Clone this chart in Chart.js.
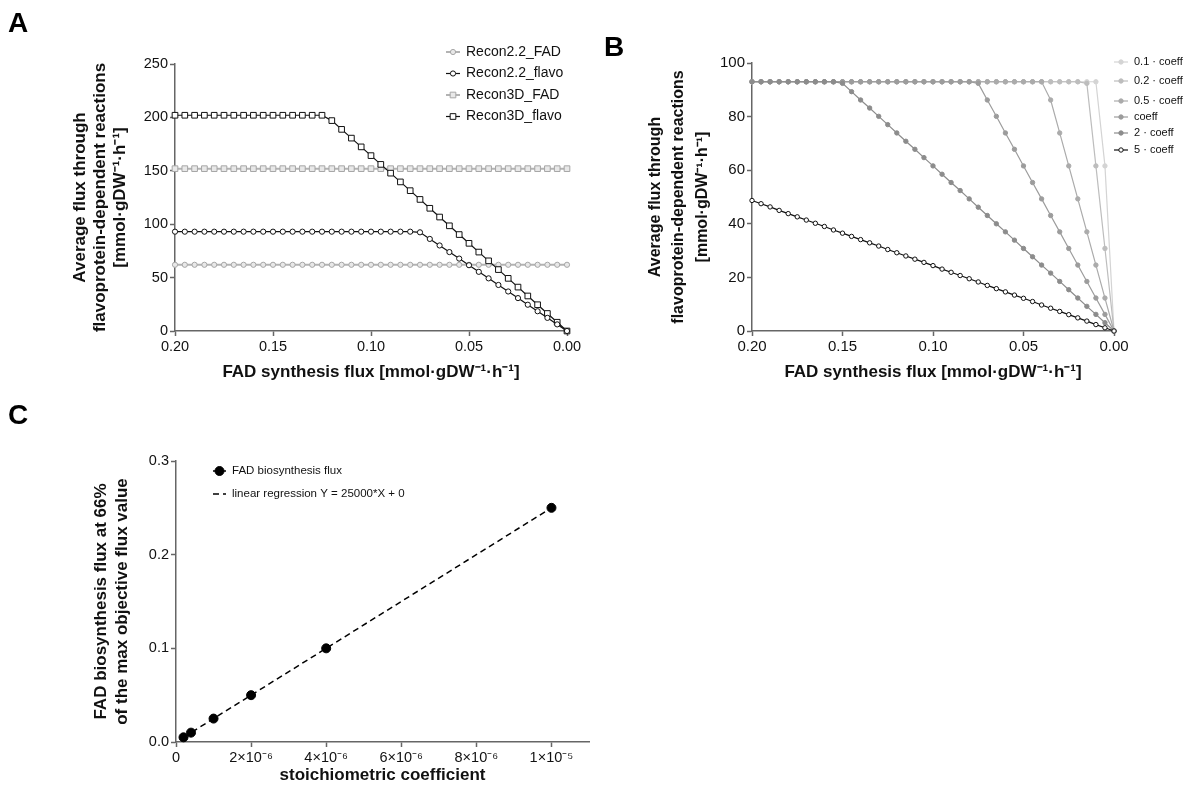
<!DOCTYPE html>
<html>
<head>
<meta charset="utf-8">
<script src="https://cdn.jsdelivr.net/npm/chart.js@4.4.1/dist/chart.umd.min.js"></script>
<style>
  body { margin: 0; background: #fff; width: 1186px; height: 798px; position: relative; overflow: hidden; font-family: "Liberation Sans", Arial, sans-serif; }
  canvas { position: absolute; }
  .panel { position: absolute; font-weight: bold; font-size: 28px; line-height: 28px; color: #000; }
</style>
</head>
<body>
<canvas id="chartA" width="600" height="400" style="left:0;top:0"></canvas>
<canvas id="chartB" width="586" height="400" style="left:600px;top:0"></canvas>
<canvas id="chartC" width="600" height="398" style="left:0;top:400px"></canvas>
<div class="panel" style="left:8px;top:9px">A</div>
<div class="panel" style="left:604px;top:33px">B</div>
<div class="panel" style="left:8px;top:401px">C</div>
<script>
// FAD synthesis flux grid (x axis of A and B)
var xFlux = [0.200, 0.195, 0.190, 0.185, 0.180, 0.175, 0.170, 0.165, 0.160, 0.155,
             0.150, 0.145, 0.140, 0.135, 0.130, 0.125, 0.120, 0.115, 0.110, 0.105,
             0.100, 0.095, 0.090, 0.085, 0.080, 0.075, 0.070, 0.065, 0.060, 0.055,
             0.050, 0.045, 0.040, 0.035, 0.030, 0.025, 0.020, 0.015, 0.010, 0.005, 0.000];

// panel A
var recon22FAD = [62, 62, 62, 62, 62, 62, 62, 62, 62, 62, 62, 62, 62, 62, 62, 62, 62, 62, 62, 62,
                  62, 62, 62, 62, 62, 62, 62, 62, 62, 62, 62, 62, 62, 62, 62, 62, 62, 62, 62, 62, 62];
var recon22Flavo = [93, 93, 93, 93, 93, 93, 93, 93, 93, 93, 93, 93, 93, 93, 93, 93, 93, 93, 93, 93,
                    93, 93, 93, 93, 93, 92.4, 86.2, 80.1, 73.9, 67.8, 61.6, 55.4, 49.3, 43.1, 37.0,
                    30.8, 24.6, 18.5, 12.3, 6.2, 0];
var recon3DFAD = [152, 152, 152, 152, 152, 152, 152, 152, 152, 152, 152, 152, 152, 152, 152, 152,
                  152, 152, 152, 152, 152, 152, 152, 152, 152, 152, 152, 152, 152, 152, 152, 152,
                  152, 152, 152, 152, 152, 152, 152, 152, 152];
var recon3DFlavo = [202, 202, 202, 202, 202, 202, 202, 202, 202, 202, 202, 202, 202, 202, 202, 202,
                    197.0, 188.8, 180.6, 172.4, 164.2, 156.0, 147.8, 139.6, 131.4, 123.2, 114.9,
                    106.7, 98.5, 90.3, 82.1, 73.9, 65.7, 57.5, 49.3, 41.1, 32.8, 24.6, 16.4, 8.2, 0];

// panel B
var coef01 = [93, 93, 93, 93, 93, 93, 93, 93, 93, 93, 93, 93, 93, 93, 93, 93, 93, 93, 93, 93,
              93, 93, 93, 93, 93, 93, 93, 93, 93, 93, 93, 93, 93, 93, 93, 93, 93, 93, 93, 61.6, 0];
var coef02 = [93, 93, 93, 93, 93, 93, 93, 93, 93, 93, 93, 93, 93, 93, 93, 93, 93, 93, 93, 93,
              93, 93, 93, 93, 93, 93, 93, 93, 93, 93, 93, 93, 93, 93, 93, 93, 93, 92.4, 61.6, 30.8, 0];
var coef05 = [93, 93, 93, 93, 93, 93, 93, 93, 93, 93, 93, 93, 93, 93, 93, 93, 93, 93, 93, 93,
              93, 93, 93, 93, 93, 93, 93, 93, 93, 93, 93, 93, 93, 86.2, 73.9, 61.6, 49.3, 37.0,
              24.6, 12.3, 0];
var coef1 = [93, 93, 93, 93, 93, 93, 93, 93, 93, 93, 93, 93, 93, 93, 93, 93, 93, 93, 93, 93,
             93, 93, 93, 93, 93, 92.4, 86.2, 80.1, 73.9, 67.8, 61.6, 55.4, 49.3, 43.1, 37.0,
             30.8, 24.6, 18.5, 12.3, 6.2, 0];
var coef2 = [93, 93, 93, 93, 93, 93, 93, 93, 93, 93, 92.4, 89.3, 86.2, 83.2, 80.1, 77.0, 73.9,
             70.8, 67.8, 64.7, 61.6, 58.5, 55.4, 52.4, 49.3, 46.2, 43.1, 40.0, 37.0, 33.9, 30.8,
             27.7, 24.6, 21.6, 18.5, 15.4, 12.3, 9.2, 6.2, 3.1, 0];
var coef5 = [48.7, 47.5, 46.3, 45.0, 43.8, 42.6, 41.4, 40.2, 39.0, 37.7, 36.5, 35.3, 34.1, 32.9,
             31.7, 30.4, 29.2, 28.0, 26.8, 25.6, 24.4, 23.1, 21.9, 20.7, 19.5, 18.3, 17.0, 15.8,
             14.6, 13.4, 12.2, 11.0, 9.7, 8.5, 7.3, 6.1, 4.9, 3.7, 2.4, 1.2, 0];
var coefLabels = ['0.1 · coeff', '0.2 · coeff', '0.5 · coeff', 'coeff', '2 · coeff', '5 · coeff'];

// panel C
var stoichCoef = [2e-7, 4e-7, 1e-6, 2e-6, 4e-6, 1e-5];
var fadFlux66 = [0.005, 0.01, 0.025, 0.05, 0.1, 0.25];
var regX = [2e-7, 1e-5];
var regY = [0.005, 0.25];
var cTickValues = [0, 2e-6, 4e-6, 6e-6, 8e-6, 1e-5];
var cTickLabels = ['0', '2×10⁻⁶', '4×10⁻⁶', '6×10⁻⁶', '8×10⁻⁶', '1×10⁻⁵'];

var FONT = '"Liberation Sans", Arial, Helvetica, sans-serif';
var AXIS_COLOR = '#666';
var TEXT_COLOR = '#111';

function toPoints(xs, ys) {
    return ys.map(function(y, i) { return { x: xs[i], y: y }; });
}

function axis(tickSize) {
    return {
        border: { display: true, color: AXIS_COLOR, width: 1.5 },
        grid: { display: true, drawOnChartArea: false, drawTicks: true, tickLength: 5, color: AXIS_COLOR, tickColor: AXIS_COLOR, tickWidth: 1.5 },
        ticks: { color: TEXT_COLOR, font: { family: FONT, size: tickSize }, padding: 2, maxRotation: 0 }
    };
}

function drawMarker(ctx, ds, x, y) {
    var r = ds.pointRadius;
    ctx.fillStyle = ds.pointBackgroundColor;
    ctx.strokeStyle = ds.pointBorderColor;
    ctx.lineWidth = ds.pointBorderWidth;
    ctx.setLineDash([]);
    ctx.beginPath();
    if (ds.pointStyle === 'rect') {
        var s = Math.SQRT1_2 * r;
        ctx.rect(x - s, y - s, 2 * s, 2 * s);
    } else {
        ctx.arc(x, y, r, 0, Math.PI * 2);
    }
    ctx.fill();
    if (ds.pointBorderWidth > 0) ctx.stroke();
}

// prism-like legend: short line + marker + label
function legendPlugin(spec) {
    return {
        id: 'prismLegend',
        afterDraw: function(chart) {
            var ctx = chart.ctx;
            ctx.save();
            ctx.font = spec.font;
            ctx.textBaseline = 'middle';
            spec.rows.forEach(function(row, i) {
                var ds = chart.data.datasets[row.dataset];
                var y = spec.ys[i];
                ctx.strokeStyle = row.lineColor || ds.borderColor;
                ctx.lineWidth = row.lineWidth || ds.borderWidth;
                ctx.setLineDash(ds.borderDash || []);
                ctx.beginPath();
                ctx.moveTo(spec.x0, y);
                ctx.lineTo(spec.x1, y);
                ctx.stroke();
                if (ds.pointRadius > 0) drawMarker(ctx, ds, (spec.x0 + spec.x1) / 2, y);
                ctx.fillStyle = TEXT_COLOR;
                ctx.fillText(row.label || ds.label, spec.tx, y);
            });
            ctx.restore();
        }
    };
}

// ---------- panel A ----------
var axA = axis(14.5), ayA = axis(14.5);
axA.type = 'linear'; axA.reverse = true; axA.min = 0; axA.max = 0.2;
axA.ticks.stepSize = 0.05;
axA.ticks.callback = function(v) { return v.toFixed(2); };
axA.afterFit = function(s) { s.height = 69; };
axA.title = { display: true, text: 'FAD synthesis flux [mmol·gDW⁻¹·h⁻¹]', color: TEXT_COLOR,
              font: { family: FONT, size: 17, weight: 'bold', lineHeight: 1.2 }, padding: { top: 0, bottom: 17.8 } };
ayA.min = 0; ayA.max = 250; ayA.ticks.stepSize = 50;
ayA.afterFit = function(s) { s.width = 175; };
ayA.title = { display: true, text: ['Average flux through', 'flavoprotein-dependent reactions', '[mmol·gDW⁻¹·h⁻¹]'],
              color: TEXT_COLOR, font: { family: FONT, size: 17, weight: 'bold', lineHeight: 1.15 }, padding: { top: 71, bottom: 0 } };

new Chart(document.getElementById('chartA'), {
    type: 'line',
    data: {
        datasets: [
            { label: 'Recon2.2_FAD', data: toPoints(xFlux, recon22FAD), borderColor: '#b3b3b3', borderWidth: 2,
              pointStyle: 'circle', pointRadius: 2.6, pointBorderColor: '#a6a6a6', pointBackgroundColor: '#e8e8e8', pointBorderWidth: 1, order: 2 },
            { label: 'Recon2.2_flavo', data: toPoints(xFlux, recon22Flavo), borderColor: '#111', borderWidth: 1.2,
              pointStyle: 'circle', pointRadius: 2.6, pointBorderColor: '#111', pointBackgroundColor: '#fff', pointBorderWidth: 1, order: 1 },
            { label: 'Recon3D_FAD', data: toPoints(xFlux, recon3DFAD), borderColor: '#b3b3b3', borderWidth: 2,
              pointStyle: 'rect', pointRadius: 4, pointBorderColor: '#a6a6a6', pointBackgroundColor: '#e8e8e8', pointBorderWidth: 1, order: 2 },
            { label: 'Recon3D_flavo', data: toPoints(xFlux, recon3DFlavo), borderColor: '#111', borderWidth: 1.2,
              pointStyle: 'rect', pointRadius: 4, pointBorderColor: '#111', pointBackgroundColor: '#fff', pointBorderWidth: 1, order: 1 }
        ]
    },
    options: {
        responsive: false, animation: false,
        layout: { padding: { left: 0, right: 33, top: 64, bottom: 0 } },
        datasets: { line: { clip: false, tension: 0 } },
        plugins: { legend: { display: false }, tooltip: { enabled: false } },
        scales: { x: axA, y: ayA }
    },
    plugins: [legendPlugin({
        font: '14px ' + FONT, x0: 446, x1: 460, tx: 466, ys: [52, 73.5, 95, 116.5],
        rows: [{ dataset: 0 }, { dataset: 1 }, { dataset: 2 }, { dataset: 3 }]
    })]
});

// ---------- panel B ----------
var axB = axis(15), ayB = axis(15);
axB.type = 'linear'; axB.reverse = true; axB.min = 0; axB.max = 0.2;
axB.ticks.stepSize = 0.05;
axB.ticks.callback = function(v) { return v.toFixed(2); };
axB.afterFit = function(s) { s.height = 69; };
axB.title = { display: true, text: 'FAD synthesis flux [mmol·gDW⁻¹·h⁻¹]', color: TEXT_COLOR,
              font: { family: FONT, size: 17, weight: 'bold', lineHeight: 1.2 }, padding: { top: 0, bottom: 17.8 } };
ayB.min = 0; ayB.max = 100; ayB.ticks.stepSize = 20;
ayB.afterFit = function(s) { s.width = 152; };
ayB.title = { display: true, text: ['Average flux through', 'flavoprotein-dependent reactions', '[mmol·gDW⁻¹·h⁻¹]'],
              color: TEXT_COLOR, font: { family: FONT, size: 16, weight: 'bold', lineHeight: 1.44 }, padding: { top: 44.5, bottom: 0 } };

var coefSeries = [coef01, coef02, coef05, coef1, coef2, coef5];
var coefColors = ['#d4d4d4', '#bdbdbd', '#ababab', '#9c9c9c', '#8c8c8c', '#111'];
var coefFills = ['#d4d4d4', '#bdbdbd', '#ababab', '#9c9c9c', '#8c8c8c', '#fff'];

new Chart(document.getElementById('chartB'), {
    type: 'line',
    data: {
        datasets: coefSeries.map(function(vals, i) {
            return { label: coefLabels[i], data: toPoints(xFlux, vals), borderColor: coefColors[i], borderWidth: 1.2,
                     pointStyle: 'circle', pointRadius: 2.2, pointBorderColor: coefColors[i],
                     pointBackgroundColor: coefFills[i], pointBorderWidth: 1, order: 6 - i };
        })
    },
    options: {
        responsive: false, animation: false,
        layout: { padding: { left: 0, right: 72, top: 63, bottom: 0 } },
        datasets: { line: { clip: false, tension: 0 } },
        plugins: { legend: { display: false }, tooltip: { enabled: false } },
        scales: { x: axB, y: ayB }
    },
    plugins: [legendPlugin({
        font: '11px ' + FONT, x0: 514, x1: 528, tx: 534, ys: [62, 81, 101, 117, 133, 150],
        rows: [{ dataset: 0 }, { dataset: 1 }, { dataset: 2 }, { dataset: 3 }, { dataset: 4 }, { dataset: 5 }]
    })]
});

// ---------- panel C ----------
var axC = axis(14.5), ayC = axis(14.5);
axC.type = 'linear'; axC.min = 0; axC.max = 1.1e-5;
axC.afterBuildTicks = function(s) { s.ticks = cTickValues.map(function(v) { return { value: v }; }); };
axC.ticks.callback = function(v, i) { return cTickLabels[i]; };
axC.afterFit = function(s) { s.height = 56; };
axC.title = { display: true, text: 'stoichiometric coefficient', color: TEXT_COLOR,
              font: { family: FONT, size: 17, weight: 'bold', lineHeight: 1.2 }, padding: { top: 0, bottom: 12.8 } };
ayC.min = 0; ayC.max = 0.3; ayC.ticks.stepSize = 0.1;
ayC.ticks.callback = function(v) { return v.toFixed(1); };
ayC.afterFit = function(s) { s.width = 176; };
ayC.title = { display: true, text: ['FAD biosynthesis flux at 66%', 'of the max objective flux value'],
              color: TEXT_COLOR, font: { family: FONT, size: 17, weight: 'bold', lineHeight: 1.24 }, padding: { top: 90.5, bottom: 0 } };

new Chart(document.getElementById('chartC'), {
    type: 'scatter',
    data: {
        datasets: [
            { label: 'FAD biosynthesis flux', data: toPoints(stoichCoef, fadFlux66), showLine: false,
              borderColor: '#000', borderWidth: 1.5, pointStyle: 'circle', pointRadius: 4.5,
              pointBackgroundColor: '#000', pointBorderColor: '#000', pointBorderWidth: 1, clip: false, order: 0 },
            { label: 'linear regression Y = 25000*X + 0', data: toPoints(regX, regY), showLine: true,
              borderColor: '#000', borderWidth: 1.5, borderDash: [6, 4], pointRadius: 0, clip: false, order: 1 }
        ]
    },
    options: {
        responsive: false, animation: false,
        layout: { padding: { left: 0, right: 11, top: 61, bottom: 0 } },
        plugins: { legend: { display: false }, tooltip: { enabled: false } },
        scales: { x: axC, y: ayC }
    },
    plugins: [legendPlugin({
        font: '11.5px ' + FONT, x0: 213, x1: 226, tx: 232, ys: [71, 94],
        rows: [{ dataset: 0, lineColor: '#000', lineWidth: 1.5 }, { dataset: 1 }]
    })]
});
</script>
</body>
</html>
